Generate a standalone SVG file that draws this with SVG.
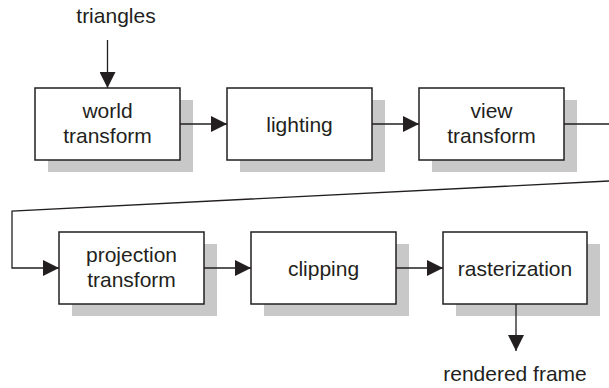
<svg xmlns="http://www.w3.org/2000/svg" width="609" height="388" viewBox="0 0 609 388">
  <style>
    .shadow { fill: #c8c8c9; }
    .box { fill: #ffffff; stroke: #231f20; stroke-width: 1.5; }
    .label { font-family: "Liberation Sans", Arial, sans-serif; font-size: 21px; fill: #231f20; text-anchor: middle; }
    .wire { fill: none; stroke: #231f20; stroke-width: 1.3; }
  </style>
  <defs>
    <marker id="arrow" markerUnits="userSpaceOnUse" markerWidth="16" markerHeight="16" viewBox="0 0 16 16" refX="16" refY="8" orient="auto">
      <path d="M0,0 L16,8 L0,16 Z" fill="#231f20"/>
    </marker>
  </defs>
  <rect width="609" height="388" fill="#ffffff"/>

  <!-- input / output labels -->
  <text class="label" x="116" y="23">triangles</text>
  <text class="label" x="515" y="381">rendered frame</text>

  <!-- pipeline stages -->
  <g id="world-transform">
    <rect class="shadow" x="48" y="100" width="145" height="72"/>
    <rect class="box" x="35" y="88" width="145" height="72"/>
    <text class="label" x="107.5" y="118">world</text>
    <text class="label" x="107.5" y="142.5">transform</text>
  </g>
  <g id="lighting">
    <rect class="shadow" x="240" y="100" width="145" height="72"/>
    <rect class="box" x="227" y="88" width="145" height="72"/>
    <text class="label" x="299.5" y="131.5">lighting</text>
  </g>
  <g id="view-transform">
    <rect class="shadow" x="432" y="100" width="145" height="72"/>
    <rect class="box" x="419" y="88" width="145" height="72"/>
    <text class="label" x="491.5" y="118">view</text>
    <text class="label" x="491.5" y="142.5">transform</text>
  </g>
  <g id="projection-transform">
    <rect class="shadow" x="72" y="244" width="145" height="72"/>
    <rect class="box" x="59" y="232" width="145" height="72"/>
    <text class="label" x="131.5" y="262">projection</text>
    <text class="label" x="131.5" y="286.5">transform</text>
  </g>
  <g id="clipping">
    <rect class="shadow" x="264" y="244" width="145" height="72"/>
    <rect class="box" x="251" y="232" width="145" height="72"/>
    <text class="label" x="323.5" y="275.5">clipping</text>
  </g>
  <g id="rasterization">
    <rect class="shadow" x="456" y="244" width="144" height="72"/>
    <rect class="box" x="443" y="232" width="144" height="72"/>
    <text class="label" x="515" y="275.5">rasterization</text>
  </g>

  <!-- connectors -->
  <g id="connectors">
    <line class="wire" x1="107.5" y1="40" x2="107.5" y2="88" marker-end="url(#arrow)"/>
    <line class="wire" x1="180" y1="124" x2="227" y2="124" marker-end="url(#arrow)"/>
    <line class="wire" x1="372" y1="124" x2="419" y2="124" marker-end="url(#arrow)"/>
    <line class="wire" x1="564" y1="124" x2="609" y2="124"/>
    <polyline class="wire" points="609,181 12,211 12,268 59,268" marker-end="url(#arrow)"/>
    <line class="wire" x1="204" y1="268" x2="251" y2="268" marker-end="url(#arrow)"/>
    <line class="wire" x1="396" y1="268" x2="443" y2="268" marker-end="url(#arrow)"/>
    <line class="wire" x1="516" y1="304" x2="516" y2="351" marker-end="url(#arrow)"/>
  </g>
</svg>
